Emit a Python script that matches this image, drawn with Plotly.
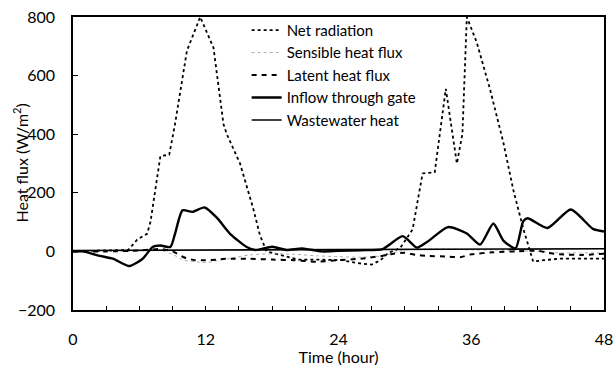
import plotly.graph_objects as go

# ---- data ----
net_h = [0, 2, 4, 5, 5.8, 6.7, 7.0, 7.4, 7.9, 8.7, 9.2, 10.3, 11.5, 12.7, 13.6, 13.9, 15.1, 16.3, 16.9, 17.5,
         18.5, 20.4, 22, 24.3, 25.7, 27, 27.8, 28.5, 29.2, 29.6, 30.7, 31.6, 32.7, 33.2, 33.7, 34.7, 35.2, 35.6,
         36.5, 37.7, 38.9, 39.8, 40.7, 41.6, 42.5, 44, 46, 48]
net_v = [0, 2, 5, 5, 40, 60, 100, 200, 325, 330, 430, 685, 800, 695, 435, 400, 300, 145, 55, 0,
         -10, -28, -28, -30, -40, -45, -30, -5, 5, 13, 75, 266, 270, 410, 555, 300, 400, 800,
         713, 553, 372, 210, 78, -35, -30, -25, -25, -25]

sens_h = [0, 4, 8, 9, 10, 11, 12, 13, 14, 16, 18, 20, 22, 24, 26, 28, 29, 30, 32, 34, 36, 38, 40, 42, 44, 46, 48]
sens_v = [0, 0, 2, -10, -30, -35, -38, -32, -25, -12, -8, -10, -15, -18, -20, -15, -5, 5, 8, 8, 5, 5, 3, 0, -5, -5, -5]

lat_h = [0, 3, 6, 8, 9, 10, 11, 12, 13, 14, 16, 18, 20, 22, 24, 26, 28, 29, 30, 31, 32, 34, 35, 36, 38, 40, 42, 43, 44, 46, 48]
lat_v = [0, 0, 3, 8, 0, -20, -30, -30, -28, -25, -25, -28, -30, -35, -30, -25, -15, -8, -5, -12, -15, -18, -20, -10, -3, 0, 2, -5, -10, -12, -8]

gate_h = [0, 0.9, 2.4, 3.6, 5.1, 6.3, 7.2, 7.9, 8.8, 9.2, 9.9, 10.8, 11.9, 13, 14.2, 15.7, 16.5, 18, 19.3, 20.7,
          22.5, 24, 26, 28, 29.8, 31.1, 32, 33.9, 35.6, 36.8, 38, 38.9, 40, 40.7, 41.1, 42.9, 45, 47, 48]
gate_v = [0, 0, -15, -25, -50, -25, 15, 20, 15, 57, 140, 135, 150, 115, 60, 15, 5, 16, 5, 10,
          0, 2, 4, 8, 52, 13, 32, 83, 61, 23, 95, 37, 10, 103, 113, 80, 143, 77, 68]

waste_h = [0, 6, 12, 18, 24, 30, 36, 42, 48]
waste_v = [3, 4, 5, 5, 6, 7, 8, 8, 9]

x_tickvals = [0, 12, 24, 36, 48]
x_ticktext = ["0", "12", "24", "36", "48"]
y_tickvals = [-200, 0, 200, 400, 600, 800]

FONT = "Lato"

fig = go.Figure()
fig.add_trace(go.Scatter(x=net_h, y=net_v, mode="lines", name="Net radiation",
                         line=dict(color="black", width=1.8, dash="dot")))
fig.add_trace(go.Scatter(x=sens_h, y=sens_v, mode="lines", name="Sensible heat flux",
                         line=dict(color="#999999", width=0.8, dash="dot", shape="spline", smoothing=0.6)))
fig.add_trace(go.Scatter(x=lat_h, y=lat_v, mode="lines", name="Latent heat flux",
                         line=dict(color="black", width=2, dash="5px,5px", shape="spline", smoothing=0.6)))
fig.add_trace(go.Scatter(x=gate_h, y=gate_v, mode="lines", name="Inflow through gate",
                         line=dict(color="black", width=2.4, shape="spline", smoothing=0.6)))
fig.add_trace(go.Scatter(x=waste_h, y=waste_v, mode="lines", name="Wastewater heat",
                         line=dict(color="black", width=1.6)))

fig.update_layout(
    width=616, height=366,
    margin=dict(l=73, r=12, t=17, b=56),
    paper_bgcolor="white", plot_bgcolor="white",
    font=dict(family=FONT, size=16, color="black"),
    showlegend=True,
    legend=dict(x=0.327, y=1.011, xanchor="left", yanchor="top",
                bgcolor="rgba(0,0,0,0)", font=dict(family=FONT, size=15, color="black"),
                itemwidth=30, tracegroupgap=0),
    annotations=[dict(text="Heat flux (W/m<sup>2</sup>)", textangle=-90, xref="paper", yref="paper",
                      x=(21 - 73) / 531, y=0.5, xanchor="center", yanchor="middle", showarrow=False,
                      font=dict(family=FONT, size=16, color="black"))],
)
fig.update_xaxes(range=[0, 48], tickvals=x_tickvals, ticktext=x_ticktext, automargin=False,
                 ticks="inside", ticklen=4, tickwidth=1.2, tickcolor="black",
                 minor=dict(dtick=3, tick0=0, ticks="inside", ticklen=4, tickwidth=1.2, tickcolor="black", showgrid=False),
                 showline=True, linecolor="black", linewidth=1.6, mirror=True,
                 showgrid=False, zeroline=False, ticklabelstandoff=14,
                 title=dict(text="Time (hour)", standoff=0, font=dict(size=16)))
fig.update_yaxes(range=[-200, 800], tickvals=y_tickvals, automargin=False,
                 ticks="inside", ticklen=5, tickwidth=1.2, tickcolor="black",
                 showline=True, linecolor="black", linewidth=1.6, mirror=True,
                 showgrid=False, zeroline=False, ticklabelstandoff=13)

fig.write_html("out.html")
